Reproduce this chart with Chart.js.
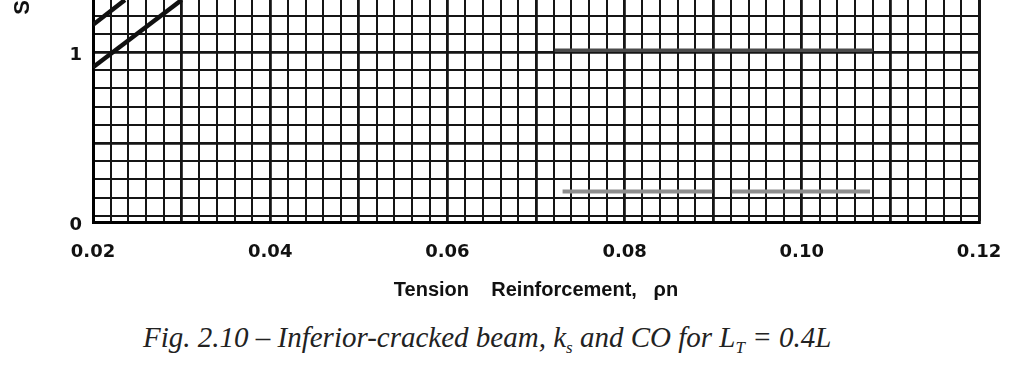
<!DOCTYPE html>
<html>
<head>
<meta charset="utf-8">
<script src="https://cdn.jsdelivr.net/npm/chart.js@4/dist/chart.umd.min.js"></script>
<style>
html,body{margin:0;padding:0;background:#fff;width:1023px;height:374px;overflow:hidden}
#wrap{position:absolute;left:0;top:0;width:1023px;height:310px}
#cap{position:absolute;left:143px;top:321px;white-space:nowrap;font:italic 29px "Liberation Serif","Times New Roman",serif;color:#222}
#cap sub{font-size:17px;vertical-align:-6px;line-height:0}
</style>
</head>
<body>
<div id="wrap"><canvas id="c" width="1023" height="310"></canvas></div>
<div id="cap">Fig. 2.10 – Inferior-cracked beam, k<sub>s</sub> and CO for L<sub>T</sub> = 0.4L</div>
<script>
// ---- data ----
const xTickLabels = ['0.02', '0.04', '0.06', '0.08', '0.10', '0.12'];
const yTickLabels = ['0', '1'];
const yAxisTitle = 'S';
const xAxisTitle = 'Tension    Reinforcement,   \u03c1n';

const ksUpperX = [0.02, 0.0236];
const ksUpperY = [1.16, 1.306];
const ksLowerX = [0.02, 0.0300];
const ksLowerY = [0.91, 1.306];
const coHighX = [0.0721, 0.1080];
const coHighY = [1.01, 1.01];
const coLowX = [0.0730, 0.0899, 0.0910, 0.0921, 0.1077];
const coLowY = [0.18, 0.18, null, 0.18, 0.18];

const pts = (xs, ys) => xs.map((x, i) => ({x: x, y: ys[i]}));
const xLabelVals = xTickLabels.map(Number);
const yLabelVals = yTickLabels.map(Number);

const X_MIN = 0.02, X_MAX = 0.12, X_STEP = 0.002;
const Y_MIN = 0, Y_MAX = 1.306, Y_GRID = 0.107;

function near(a, b) { return Math.abs(a - b) < 1e-7; }

new Chart(document.getElementById('c'), {
  type: 'line',
  data: {
    datasets: [
      {data: pts(ksUpperX, ksUpperY), borderColor: '#111', borderWidth: 4.5},
      {data: pts(ksLowerX, ksLowerY), borderColor: '#111', borderWidth: 4.5},
      {data: pts(coHighX, coHighY), borderColor: '#4a4a4a', borderWidth: 3.5},
      {data: pts(coLowX, coLowY), borderColor: '#8e8e8e', borderWidth: 4, spanGaps: false}
    ]
  },
  options: {
    responsive: false,
    animation: false,
    devicePixelRatio: 1,
    layout: {padding: {left: 0, top: 0, right: 44, bottom: 0}},
    elements: {point: {radius: 0}, line: {tension: 0, borderCapStyle: 'butt'}},
    plugins: {legend: {display: false}, tooltip: {enabled: false}},
    scales: {
      x: {
        type: 'linear', position: 'bottom', min: X_MIN, max: X_MAX,
        afterBuildTicks: (s) => {
          const t = [];
          for (let i = 0; i <= Math.round((X_MAX - X_MIN) / X_STEP); i++) t.push({value: +(X_MIN + i * X_STEP).toFixed(4)});
          s.ticks = t;
        },
        afterFit: (s) => { s.height = 88; },
        ticks: {
          autoSkip: false, maxRotation: 0, minRotation: 0, padding: 20,
          color: '#111', font: {family: 'DejaVu Sans', weight: 'bold', size: 18},
          callback: (v) => { const i = xLabelVals.findIndex(a => near(a, v)); return i >= 0 ? xTickLabels[i] : ''; }
        },
        grid: {
          drawTicks: false, color: '#151515',
          lineWidth: (ctx) => {
            const v = ctx.tick ? ctx.tick.value : 0;
            if (near(v, X_MAX)) return 3;
            const k = Math.round(v / 0.01);
            return near(v, k * 0.01) ? 2.8 : 2;
          }
        },
        border: {display: true, width: 3, color: '#000'},
        title: {
          display: true, text: xAxisTitle, color: '#111',
          font: {family: 'Liberation Sans', weight: 'bold', size: 20},
          padding: {top: 0, bottom: 8}
        }
      },
      y: {
        type: 'linear', position: 'left', min: Y_MIN, max: Y_MAX,
        afterBuildTicks: (s) => {
          const t = [{value: 0}];
          for (let k = -9; k <= 3; k++) {
            const v = +(1 + k * Y_GRID).toFixed(4);
            if (v > 0.01 && v < Y_MAX) t.push({value: v});
          }
          t.sort((a, b) => a.value - b.value);
          s.ticks = t;
        },
        afterFit: (s) => { s.width = 93; s.paddingTop = 0; s.paddingBottom = 0; },
        ticks: {
          autoSkip: false, padding: 11, labelOffset: 3,
          color: '#111', font: {family: 'DejaVu Sans', weight: 'bold', size: 18},
          callback: (v) => { const i = yLabelVals.findIndex(a => near(a, v)); return i >= 0 ? yTickLabels[i] : ''; }
        },
        grid: {
          drawTicks: false, color: '#151515',
          lineWidth: (ctx) => {
            const v = ctx.tick ? ctx.tick.value : 0;
            return (near(v, 1) || near(v, 1 - 5 * Y_GRID)) ? 2.8 : 2;
          }
        },
        border: {display: true, width: 3, color: '#000'},
        title: {
          display: true, text: yAxisTitle, align: 'end', color: '#111',
          font: {family: 'Liberation Sans', weight: 'bold', size: 22},
          padding: {top: 10, bottom: 0}
        }
      }
    }
  }
});
</script>
</body>
</html>
